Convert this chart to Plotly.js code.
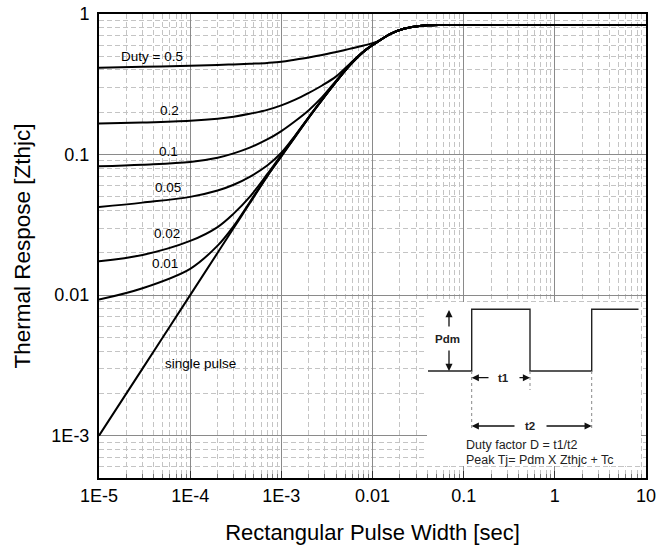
<!DOCTYPE html>
<html>
<head>
<meta charset="utf-8">
<script src="https://cdn.plot.ly/plotly-3.0.1.min.js"></script>
<style>html,body{margin:0;padding:0;background:#fff;}#chart{width:672px;height:550px;}</style>
</head>
<body>
<div id="chart"></div>
<script>
// ---- data ----
const pulseWidth = [1e-5, 3e-5, 1e-4, 2e-4, 3e-4, 4.5e-4, 7e-4, 1e-3, 1.4e-3, 2e-3, 2.8e-3, 4e-3, 5.6e-3, 8e-3, 0.011, 0.016, 0.022, 0.03, 0.04, 0.055, 0.1, 1, 10];
const duty05  = [0.415, 0.421, 0.429, 0.434, 0.438, 0.443, 0.449, 0.457, 0.472, 0.490, 0.510, 0.537, 0.565, 0.597, 0.632, 0.728, 0.785, 0.815, 0.83, 0.835, 0.835, 0.835, 0.835];
const duty02  = [0.166, 0.169, 0.174, 0.180, 0.186, 0.195, 0.208, 0.224, 0.245, 0.275, 0.310, 0.360, 0.440, 0.543, 0.627, 0.726, 0.785, 0.815, 0.83, 0.835, 0.835, 0.835, 0.835];
const duty01  = [0.0826, 0.0848, 0.0886, 0.095, 0.102, 0.112, 0.128, 0.147, 0.172, 0.207, 0.256, 0.336, 0.432, 0.541, 0.626, 0.725, 0.785, 0.815, 0.83, 0.835, 0.835, 0.835, 0.835];
const duty005 = [0.0423, 0.0455, 0.0500, 0.0555, 0.0610, 0.0695, 0.0835, 0.103, 0.135, 0.185, 0.246, 0.331, 0.43, 0.54, 0.625, 0.725, 0.785, 0.815, 0.83, 0.835, 0.835, 0.835, 0.835];
const duty002 = [0.0174, 0.0193, 0.0243, 0.0305, 0.038, 0.050, 0.0725, 0.0995, 0.134, 0.184, 0.2455, 0.33, 0.43, 0.54, 0.625, 0.725, 0.785, 0.815, 0.83, 0.835, 0.835, 0.835, 0.835];
const duty001 = [0.0093, 0.0112, 0.0154, 0.0225, 0.031, 0.0458, 0.0705, 0.0975, 0.1325, 0.1832, 0.245, 0.33, 0.43, 0.54, 0.625, 0.725, 0.785, 0.815, 0.83, 0.835, 0.835, 0.835, 0.835];
const singlePulse = [0.001, 0.003, 0.01, 0.02, 0.03, 0.045, 0.07, 0.097, 0.132, 0.183, 0.245, 0.33, 0.43, 0.54, 0.625, 0.725, 0.785, 0.815, 0.83, 0.835, 0.835, 0.835, 0.835];

const seriesNames = ['Duty = 0.5', '0.2', '0.1', '0.05', '0.02', '0.01', 'single pulse'];
const seriesValues = [duty05, duty02, duty01, duty005, duty002, duty001, singlePulse];

const xTickVals = [1e-5, 1e-4, 1e-3, 0.01, 0.1, 1, 10];
const xTickText = ['1E-5', '1E-4', '1E-3', '0.01', '0.1', '1', '10'];
const yTickVals = [1e-3, 0.01, 0.1, 1];
const yTickText = ['1E-3', '0.01', '0.1', '1'];

// label anchor points (log10 data coords) for curve labels
const labelX = [-4.42, -4.232, -4.243, -4.243, -4.257, -4.276, -3.885];
const labelY = [-0.304, -0.684, -0.976, -1.233, -1.561, -1.773, -2.485];

// ---- build ----
const FONT = 'Liberation Sans, Arial, Helvetica, sans-serif';
const traces = seriesValues.map((v, i) => ({
  x: pulseWidth, y: v, type: 'scatter', mode: 'lines', name: seriesNames[i],
  line: {color: '#000', width: 2, shape: 'spline', smoothing: 1},
  hoverinfo: 'skip'
}));

function minorVals(d0, d1) {
  const out = [];
  for (let d = d0; d <= d1; d++) for (let k = 2; k <= 9; k++) out.push(k * Math.pow(10, d));
  return out;
}

// plot-area pixel -> paper helpers (plot area: x 99..646, y 14..478)
const L = 99, R = 646, T = 14, B = 478;
const PX = x => (x - L) / (R - L);
const PY = y => (B - y) / (B - T);

const shapes = [];
shapes.push({type: 'rect', xref: 'paper', yref: 'paper', x0: PX(427), x1: PX(641), y0: PY(466), y1: PY(302),
  fillcolor: '#fff', line: {width: 0}, layer: 'above'});
const wave = [[428, 371], [471.7, 371], [471.7, 309.3], [530, 309.3], [530, 371], [591.7, 371], [591.7, 309.3], [638.5, 309.3]];
shapes.push({type: 'path', xref: 'paper', yref: 'paper', layer: 'above',
  path: wave.map((p, i) => (i ? 'L' : 'M') + PX(p[0]).toFixed(5) + ',' + PY(p[1]).toFixed(5)).join(' '),
  line: {color: '#222', width: 1.4}});
[[471.7, 371, 431], [530, 371, 390], [591.7, 371, 431]].forEach(d => {
  shapes.push({type: 'line', xref: 'paper', yref: 'paper', layer: 'above',
    x0: PX(d[0]), x1: PX(d[0]), y0: PY(d[1]), y1: PY(d[2]), line: {color: '#888', width: 1, dash: 'dot'}});
});

const annotations = [];
seriesNames.forEach((n, i) => {
  annotations.push({x: labelX[i], y: labelY[i], xref: 'x', yref: 'y', text: n, showarrow: false,
    font: {family: FONT, size: 13.5, color: '#000'}, bgcolor: 'rgba(0,0,0,0)'});
});
function arrow(hx, hy, tx, ty) {
  annotations.push({xref: 'paper', yref: 'paper', x: PX(hx), y: PY(hy), ax: tx - hx, ay: ty - hy,
    text: '', showarrow: true, arrowhead: 2, arrowsize: 1.1, arrowwidth: 1.3, arrowcolor: '#111', standoff: 0, startstandoff: 0});
}
arrow(449, 310, 449, 328);
arrow(449, 371, 449, 349);
arrow(471.7, 377.7, 490, 377.7);
arrow(530, 377.7, 518, 377.7);
arrow(471.7, 426, 516, 426);
arrow(591.7, 426, 545, 426);
function txt(x, y, s, size, anchor) {
  annotations.push({xref: 'paper', yref: 'paper', x: PX(x), y: PY(y), text: s, showarrow: false,
    xanchor: anchor || 'center', yanchor: 'middle', font: {family: FONT, size: size, color: '#222'}});
}
txt(447.5, 339, '<b>Pdm</b>', 11.5);
txt(503.5, 378, '<b>t1</b>', 11.5);
txt(530, 426, '<b>t2</b>', 11.5);
txt(464, 445, 'Duty factor D = t1/t2', 12.5, 'left');
txt(464, 459.5, 'Peak Tj= Pdm X Zthjc + Tc', 12.5, 'left');

const axisCommon = {
  type: 'log', showline: true, linecolor: '#000', linewidth: 2, mirror: true,
  showgrid: true, gridcolor: '#8a8a8a', gridwidth: 1, zeroline: false,
  tickmode: 'array', tickfont: {family: FONT, size: 18, color: '#000'}
};

const layout = {
  width: 672, height: 550,
  margin: {l: L, r: 672 - R, t: T, b: 550 - B},
  paper_bgcolor: '#fff', plot_bgcolor: '#fff',
  showlegend: false,
  font: {family: FONT, color: '#000'},
  xaxis: Object.assign({}, axisCommon, {
    range: [-5, 1], tickvals: xTickVals, ticktext: xTickText,
    ticks: 'inside', ticklen: 7, tickcolor: '#333',
    minor: {tickmode: 'array', tickvals: minorVals(-5, 0), showgrid: true, gridcolor: '#c4c4c4', griddash: '5px,3px', gridwidth: 1,
      ticks: 'inside', ticklen: 4, tickcolor: '#777'},
    title: {text: 'Rectangular Pulse Width [sec]', font: {family: FONT, size: 22, color: '#000'}, standoff: 20}
  }),
  yaxis: Object.assign({}, axisCommon, {
    range: [Math.log10(5e-4), 0], tickvals: yTickVals, ticktext: yTickText,
    ticks: '', ticklabelstandoff: 4,
    minor: {tickmode: 'array', tickvals: minorVals(-4, -1), showgrid: true, gridcolor: '#c4c4c4', griddash: '5px,3px', gridwidth: 1},
    title: {text: 'Thermal Respose [Zthjc]', font: {family: FONT, size: 22.5, color: '#000'}, standoff: 14}
  }),
  shapes: shapes,
  annotations: annotations
};

Plotly.newPlot('chart', traces, layout, {staticPlot: true, displayModeBar: false});
</script>
</body>
</html>
